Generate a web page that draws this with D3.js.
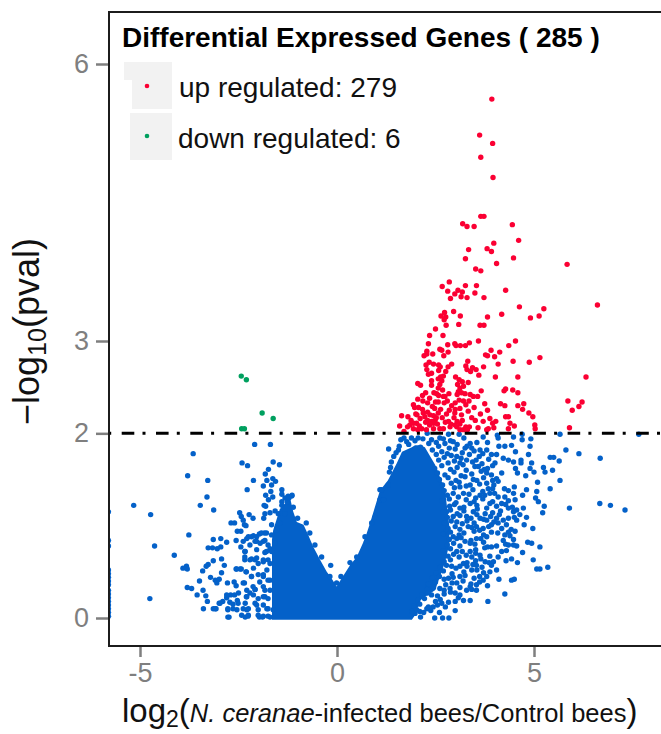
<!DOCTYPE html>
<html lang="en">
<head>
    <meta charset="utf-8">
    <title>Volcano plot</title>
    <style>
        html, body { margin: 0; padding: 0; background: #fff; overflow: hidden; }
        svg { display: block; font-family: "Liberation Sans", Helvetica, sans-serif; }
    </style>
    <script src="https://d3js.org/d3.v7.min.js"></script>
</head>
<body>
<div class="chart"></div>
<script>
// values: [log2 fold change, -log10 pval]
const upRegulated = [
[3.93,5.62],[3.62,5.23],[3.95,5.14],[3.65,4.99],[3.96,4.77],[3.65,4.35],[3.73,4.35],[3.19,4.27],[3.30,4.24],[3.48,4.24],[4.45,4.26],[3.98,4.06],[4.61,4.09],[3.34,3.99],[3.81,4.00],[3.92,3.97],[3.26,3.89],[4.48,3.90],
[4.05,3.84],[5.84,3.83],[3.52,3.78],[3.65,3.76],[2.67,3.59],[2.85,3.64],[3.26,3.60],[3.54,3.60],[2.81,3.54],[3.07,3.55],[2.99,3.51],[3.18,3.53],[3.50,3.52],[4.28,3.55],[2.88,3.46],[3.15,3.48],[3.30,3.47],[3.73,3.47],[6.61,3.39],[4.63,3.37],[5.25,3.35],[2.96,3.32],[2.73,3.31],[2.64,3.27],[2.76,3.26],[2.72,3.23],[3.13,3.27],[4.18,3.29],[3.82,3.26],[4.91,3.25],[5.13,3.27],[3.09,3.18],[2.77,3.17],[3.63,3.17],[3.73,3.17],[2.50,3.13],[2.35,3.06],[2.69,3.06],[2.32,2.97],[2.81,2.96],[2.99,2.97],[3.02,2.95],[3.13,2.95],[3.26,2.95],[3.36,2.98],[3.59,3.00],[4.53,3.00],[4.36,2.95],[2.61,2.91],[2.66,2.90],[2.28,2.89],[2.82,2.88],[2.21,2.84],[2.28,2.86],[2.43,2.86],[2.71,2.84],[3.91,2.90],[3.77,2.85],[3.82,2.84],[4.00,2.83],[4.13,2.88],[5.15,2.82],[4.47,2.78],[4.88,2.77],[2.34,2.77],[2.26,2.74],[3.32,2.78],[2.91,2.75],[2.82,2.72],[2.58,2.74],[4.09,2.75],[3.72,2.72],[3.27,2.73],[3.30,2.69],[3.44,2.71],[3.53,2.69],[2.28,2.69],[2.58,2.68],[2.76,2.67],[2.32,2.64],[2.63,2.61],[2.70,2.62],[3.39,2.67],[3.60,2.63],[4.02,2.61],[4.59,2.61],[6.32,2.61],[3.01,2.61],[3.10,2.58],[2.40,2.57],[2.57,2.59],[2.66,2.57],[3.18,2.56],[3.33,2.55],[2.05,2.54],[2.12,2.52],[2.40,2.52],[2.61,2.53],[2.57,2.49],[3.06,2.53],[3.12,2.49],[3.21,2.51],[3.66,2.46],[4.24,2.46],[4.28,2.48],[4.46,2.47],[4.59,2.44],[2.25,2.44],[2.17,2.41],[2.53,2.43],[2.58,2.41],[2.05,2.37],[2.70,2.40],[2.84,2.43],[2.74,2.40],[3.08,2.45],[3.16,2.44],[3.25,2.43],[3.38,2.42],[3.46,2.40],[3.57,2.40],[2.18,2.35],[2.30,2.33],[2.57,2.34],[2.72,2.33],[1.94,2.31],[1.97,2.28],[3.00,2.33],[3.21,2.35],[3.27,2.31],[2.91,2.30],[2.48,2.27],[2.63,2.26],[3.75,2.32],[4.15,2.32],[4.26,2.30],[4.59,2.30],[4.74,2.32],[4.71,2.26],[5.86,2.35],[6.22,2.34],[6.14,2.29],[5.97,2.25],[2.07,2.28],[2.17,2.26],[2.19,2.22],[2.30,2.23],[2.00,2.21],[1.64,2.19],[1.80,2.18],[3.00,2.26],[3.12,2.27],[3.33,2.24],[2.99,2.22],[3.16,2.20],[3.82,2.25],[4.87,2.22],[3.64,2.21],[4.28,2.18],[4.35,2.18],[4.97,2.18],[2.36,2.20],[2.45,2.19],[2.57,2.22],[2.23,2.18],[2.49,2.14],[2.11,2.16],[2.97,2.17],[3.88,2.16],[3.51,2.14],[3.71,2.13],[4.03,2.13],[3.95,2.11],[4.39,2.11],[4.50,2.08],[5.02,2.09],[5.03,2.05],[5.90,2.06],[1.59,2.08],[1.94,2.11],[2.02,2.11],[1.85,2.09],[2.09,2.08],[1.79,2.07],[2.45,2.11],[2.55,2.10],[2.83,2.13],[2.89,2.10],[3.12,2.10],[3.36,2.07],[3.27,2.07],[3.84,2.05],[3.98,2.06],[4.35,2.05],[3.21,2.04],[3.31,2.04],[3.80,2.04],[1.94,2.05],[2.15,2.05],[2.45,2.05],[2.61,2.05],[2.87,2.07],[3.04,2.07],[1.70,2.02],[3.12,2.04],
[2.25,2.12],[2.35,2.09],[2.67,2.17],[2.75,2.12],[2.40,2.13],[2.03,2.20],[1.88,2.14],[2.30,2.14],[2.70,2.05],[2.52,2.17],[3.05,2.13],[3.42,2.17],[3.58,2.06],[2.05,2.04],[2.27,2.04],[2.78,2.21],[2.85,2.25],[2.42,2.29],[2.35,2.38],[2.46,2.44],[2.50,2.34],[2.80,2.35],[2.68,2.47],[3.35,2.35],[3.10,2.36],[3.48,2.28],[2.40,2.65],[2.62,2.72],[2.45,2.75],[3.05,2.42],[3.18,2.14],[3.00,2.09]
];
const downRegulated = [[-2.43,2.62],[-2.30,2.58],[-1.90,2.22],[-1.62,2.16],[-2.42,2.05],[-2.35,2.05]];

const notSignificantLeft = [
[-2.09,1.88],[-1.69,1.88],[-3.65,1.78],[-2.41,1.68],[-2.27,1.65],[-1.62,1.69],[-1.46,1.66],[-1.74,1.61],[-1.82,1.56],[-3.79,1.54],[-3.28,1.49],[-2.12,1.49],[-1.78,1.49],[-1.63,1.51],[-1.56,1.48],[-1.66,1.44],[-1.87,1.43],[-2.28,1.39],[-1.40,1.39],[-1.68,1.37],[-1.81,1.33],[-1.40,1.34],[-3.30,1.31],[-1.63,1.31],[-1.74,1.28],[-3.47,1.22],[-5.16,1.22],[-1.85,1.22],[-1.81,1.21],[-3.13,1.17],[-4.73,1.12],[-1.70,1.14],[-1.57,1.16],[-1.83,1.13],[-2.47,1.14],[-2.43,1.10],[-2.23,1.12],[-2.13,1.08],[-1.86,1.08],[-2.38,1.06],[-2.69,1.03],[-2.60,1.03],[-2.35,1.01],[-2.31,1.00],[-1.66,1.01],[-1.53,0.97],[-2.53,0.94],[-2.44,0.94],[-3.76,0.90],[-3.14,0.85],[-2.95,0.86],[-2.80,0.82],[-2.56,0.84],[-2.38,0.83],[-2.25,0.88],[-2.12,0.89],[-1.97,0.91],[-1.84,0.92],[-2.04,0.83],[-1.87,0.83],[-4.63,0.78],[-3.27,0.76],[-3.16,0.76],[-3.04,0.75],[-2.95,0.77],[-2.44,0.77],[-2.33,0.72],[-2.04,0.74],[-1.83,0.71],[-1.70,0.75],[-4.13,0.68],[-3.14,0.62],[-2.93,0.64],[-3.27,0.58],[-3.32,0.56],[-2.86,0.57],[-2.34,0.63],[-2.17,0.64],[-2.04,0.65],[-1.87,0.63],[-1.70,0.59],[-3.82,0.56],[-3.91,0.54],[-3.80,0.53],[-3.41,0.51],[-2.56,0.53],[-2.46,0.53],[-2.93,0.49],[-2.31,0.50],[-2.12,0.54],[-1.78,0.52],[-3.21,0.44],[-3.09,0.41],[-2.99,0.42],[-3.05,0.38],[-3.49,0.40],[-2.78,0.38],[-2.61,0.39],[-2.56,0.35],[-2.35,0.38],[-2.17,0.45],[-1.87,0.45],[-1.70,0.41],[-3.80,0.33],[-3.69,0.32],[-3.40,0.30],[-3.55,0.25],[-4.75,0.21],[-3.33,0.24],[-3.29,0.18],[-2.99,0.16],[-2.90,0.18],[-2.80,0.22],[-2.70,0.25],[-2.50,0.27],[-2.29,0.30],[-2.08,0.31],[-2.29,0.23],[-2.12,0.25],[-1.87,0.34],[-1.83,0.23],[-3.39,0.10],[-3.14,0.10],[-3.07,0.10],[-2.77,0.09],[-2.64,0.15],[-2.53,0.19],[-2.54,0.09],[-2.33,0.16],[-2.29,0.09],[-2.08,0.16],[-2.00,0.09],[-2.74,0.01],[-2.33,0.01],[-2.26,0.02],[-1.97,0.01],[-1.89,0.01],[-1.70,0.01],[-1.62,0.09],[-1.78,0.10],
[-1.40,1.26],[-1.32,1.30],[-1.24,1.32],[-1.15,1.32],[-0.78,1.03],[-0.39,0.66],[-0.16,0.57],[-0.18,0.45],[0.10,0.45],[0.33,0.60],[1.09,1.28],[1.09,1.39],
[-2.29,0.86],[-2.17,0.88],[-2.04,0.88],[-1.92,0.92],[-2.08,0.83],[-1.95,0.81],[-1.83,0.84],[-1.75,0.79],[-1.58,0.81],[-2.21,0.63],[-2.08,0.63],[-2.00,0.59],[-1.87,0.61],[-1.75,0.63],[-1.66,0.72],[-1.79,0.72],[-2.34,0.72],[-2.34,0.66],[-2.55,0.53],[-2.43,0.53],[-2.30,0.50],[-2.38,0.38],[-2.17,0.45],[-2.00,0.47],[-1.87,0.47],[-1.75,0.41],[-1.96,0.39],[-2.13,0.34],[-2.21,0.27],[-2.30,0.23],[-2.08,0.31],[-1.83,0.30],[-1.70,0.30],[-1.87,0.23],[-2.00,0.21],[-1.75,0.21],[-2.04,0.14],[-1.87,0.14],[-1.75,0.10],[-2.25,0.10],[-2.38,0.10],[-2.51,0.16],[-2.64,0.10],[-2.77,0.10],[-2.72,0.17],[-2.60,0.25],[-2.80,0.25],[-2.97,0.16],[-3.09,0.10],[-2.00,0.03],[-1.87,0.02],[-1.75,0.02],[-2.42,0.03],[-2.25,0.03],[-2.77,0.01],[-2.21,0.79],[-1.79,0.92],[-1.66,0.90],[-1.53,0.95],[-1.45,1.03],[-1.32,1.13],[-1.49,1.13],[-1.40,1.22],[-1.26,1.26],[-1.14,1.33],[-1.22,1.30],
[-0.69,0.92],[-0.56,0.79],[-0.01,0.38],[0.50,0.66],[0.71,0.88],[0.75,0.83],[0.88,1.03],[0.96,1.09],[-1.11,1.20],[-1.00,1.08],
// points squeezed on the left edge of the panel
[-5.8,1.15],[-5.8,0.84],[-5.8,0.78],[-5.8,0.52],[-5.8,0.48],[-5.8,0.44],[-5.8,0.40],[-5.8,0.36],[-5.8,0.30],[-5.8,0.26],[-5.8,0.22],[-5.8,0.18],[-5.8,0.14],[-5.8,0.10],[-5.8,0.06],[-5.8,0.02]
];
const notSignificantRight = [
[5.66,1.99],[7.66,1.99],[1.62,1.93],[1.77,1.91],[1.89,1.95],[2.06,1.95],[2.29,2.00],[2.40,1.93],[2.61,1.95],[2.83,1.99],[3.10,1.99],[2.74,1.89],[2.95,1.91],[3.71,1.96],[3.82,1.90],[4.07,1.98],[4.09,1.95],[4.48,1.96],[4.70,1.99],[4.70,1.93],[4.92,1.94],[4.90,1.86],[4.43,1.87],[4.26,1.86],[4.11,1.86],[4.53,1.80],[4.86,1.77],[5.81,1.82],[6.14,1.78],[6.68,1.73],[5.41,1.74],[5.50,1.74],[5.64,1.70],[1.31,1.83],[3.38,1.89],[3.25,1.84],[3.42,1.84],[3.63,1.82],[3.80,1.82],[3.92,1.77],[4.05,1.77],[4.22,1.73],[4.35,1.71],[4.48,1.69],[4.67,1.71],[4.67,1.68],[4.94,1.68],[4.90,1.62],[4.53,1.62],[4.58,1.57],[4.79,1.54],[5.00,1.58],[5.24,1.63],[5.28,1.58],[5.47,1.60],[5.66,1.49],[5.09,1.47],[5.41,1.40],[4.50,1.42],[4.81,1.39],[5.07,1.37],[4.25,1.40],[4.71,1.33],[5.04,1.30],[5.11,1.26],[5.26,1.21],[5.22,1.14],[5.90,1.19],[6.67,1.24],[6.94,1.22],[7.31,1.17],
[3.04,1.75],[3.12,1.68],[3.29,1.71],[3.53,1.71],[3.59,1.64],[3.82,1.62],[4.01,1.68],[3.80,1.57],[4.05,1.51],[4.09,1.48],[3.80,1.46],[3.55,1.49],[3.38,1.44],[3.12,1.42],[3.21,1.35],[3.63,1.33],[3.84,1.40],[3.88,1.35],[4.09,1.31],[4.26,1.31],[4.48,1.35],[4.52,1.28],[4.18,1.24],[4.35,1.19],[4.56,1.17],[4.73,1.19],[4.81,1.09],[4.64,1.12],[4.48,1.15],[3.80,1.19],[3.76,1.13],[3.38,1.24],[3.46,1.15],[3.12,1.19],[3.29,1.10],[2.95,1.10],[2.78,1.15],[3.04,1.04],[3.63,1.08],[4.05,1.08],[4.22,1.06],[4.35,1.08],[4.09,1.03],[3.92,1.01],[4.56,1.06],[4.75,1.01],[4.97,0.97],[4.52,0.94],[4.39,0.89],[4.26,0.90],[3.92,0.93],[3.71,0.97],[3.54,0.99],[3.33,0.99],[3.54,0.86],[2.95,0.88],[2.78,0.95],[3.38,0.81],[3.25,0.83],[3.04,0.86],[4.22,0.84],[4.35,0.79],[4.56,0.78],[4.84,0.82],[4.94,0.81],[5.15,0.77],[4.71,0.71],[3.82,0.77],[3.92,0.77],[4.18,0.72],[4.09,0.66],[3.63,0.68],[3.38,0.72],[3.42,0.66],[3.04,0.72],[4.29,0.62],[4.43,0.64],[4.58,0.60],[4.98,0.63],[3.97,0.61],[3.76,0.61],[3.54,0.57],[3.21,0.59],[2.91,0.56],[3.12,0.56],[4.05,0.52],[3.88,0.50],[3.80,0.45],[3.42,0.52],[5.07,0.53],[5.15,0.53],[5.35,0.55],[4.11,0.42],[4.43,0.41],[4.50,0.42],[3.82,0.35],[3.71,0.41],[3.54,0.36],[3.38,0.34],[3.12,0.45],[3.04,0.38],[2.83,0.43],[2.87,0.32],[4.26,0.26],[3.54,0.30],[3.29,0.30],[3.00,0.27],[2.61,0.32],[2.40,0.25],[3.38,0.19],[3.21,0.19],[3.83,0.18],[3.00,0.18],[2.83,0.17],[2.66,0.16],[2.44,0.12],[2.28,0.10],[2.10,0.07],[3.00,0.08],[1.98,0.05],[2.12,0.01],[2.48,0.00],[2.68,0.00],[2.84,0.00],
[1.13,1.39],[1.18,1.28],[1.30,1.44],[1.33,1.58],[1.56,1.82],
// crowded band on the right of the core
[1.70,1.95],[1.98,1.92],[2.18,1.94],[2.52,1.90],[2.70,1.94],[2.88,1.92],[3.22,1.95],
[1.58,1.86],[1.82,1.88],[2.12,1.85],[2.33,1.89],[2.58,1.86],[2.85,1.84],[3.05,1.88],[3.30,1.86],[3.55,1.90],
[1.50,1.79],[2.42,1.82],[2.66,1.80],[2.80,1.78],[3.00,1.83],[3.18,1.79],[3.48,1.81],[3.70,1.78],
[1.44,1.75],[2.52,1.77],[2.72,1.74],[2.90,1.76],[3.15,1.73],[3.36,1.77],[3.61,1.75],[3.85,1.72],
[1.38,1.69],[2.58,1.71],[2.82,1.68],[2.98,1.70],[3.20,1.66],[3.44,1.69],[3.68,1.67],
[1.36,1.63],[2.48,1.62],[2.66,1.65],[2.88,1.61],[3.05,1.63],[3.28,1.60],[3.50,1.64],[3.74,1.61],[3.95,1.65],
[2.55,1.57],[2.74,1.55],[2.97,1.58],[3.15,1.54],[3.42,1.56],[3.66,1.59],[3.92,1.55],[4.18,1.57],
[2.60,1.50],[2.82,1.52],[3.02,1.49],[3.25,1.53],[3.46,1.50],[3.72,1.52],[3.95,1.49],
[2.68,1.44],[2.90,1.46],[3.10,1.47],[3.28,1.43],[3.62,1.45],[3.98,1.44],
[2.72,1.38],[2.98,1.41],[3.45,1.39],[3.70,1.37],[3.95,1.40],[4.35,1.38],
[2.80,1.33],[2.95,1.35],[3.08,1.31],[3.35,1.34],[3.52,1.30],[3.75,1.33],[4.00,1.35],
[2.66,1.27],[2.85,1.29],[3.02,1.25],[3.28,1.28],[3.48,1.26],[3.70,1.29],[3.95,1.26],[4.35,1.27],
[2.86,1.21],[2.98,1.23],[3.22,1.20],[3.55,1.22],[3.88,1.24],[4.05,1.21],[4.28,1.23],[4.45,1.20],
[2.70,1.15],[2.88,1.17],[3.05,1.13],[3.22,1.16],[3.56,1.18],[3.95,1.14],[4.15,1.16],
[2.80,1.09],[3.12,1.11],[3.40,1.08],[3.55,1.12],[3.72,1.07],[3.90,1.10],[4.12,1.12],[4.50,1.09],
[2.72,1.03],[2.90,1.05],[3.18,1.02],[3.30,1.05],[3.48,1.03],[3.80,1.06],[3.98,1.04],[4.30,1.01],
[2.82,0.97],[3.00,0.99],[3.12,0.96],[3.42,0.98],[3.62,0.95],[3.85,0.99],[4.18,0.97],[4.42,0.96],
[2.70,0.91],[2.88,0.93],[3.10,0.90],[3.22,0.92],[3.48,0.94],[3.72,0.90],[4.08,0.92],[4.35,0.93],
[2.85,0.85],[3.15,0.87],[3.40,0.84],[3.65,0.86],[3.80,0.88],[4.48,0.85],
[2.80,0.79],[2.96,0.81],[3.12,0.78],[3.50,0.80],[3.72,0.82],[4.05,0.78],[4.28,0.80],[4.48,0.79],
[2.70,0.73],[2.88,0.75],[3.18,0.72],[3.52,0.74],[3.75,0.76],[4.30,0.73],
[2.82,0.67],[2.96,0.69],[3.10,0.66],[3.28,0.68],[3.52,0.70],[3.88,0.67],
[2.72,0.61],[2.88,0.63],[3.30,0.60],[3.52,0.62],[3.65,0.64],[3.86,0.60],
[2.62,0.55],[2.78,0.57],[3.02,0.54],[3.30,0.56],[3.45,0.58],[3.68,0.55],[3.92,0.57],
[2.52,0.49],[2.70,0.51],[2.92,0.48],[3.22,0.50],[3.55,0.52],[3.72,0.49],
[2.42,0.43],[2.60,0.45],[2.72,0.42],[2.95,0.44],[3.25,0.46],[3.48,0.43],[3.62,0.45],
[2.32,0.37],[2.50,0.39],[2.76,0.36],[2.92,0.38],[3.20,0.40],[3.40,0.37],[3.62,0.39],
[2.28,0.31],[2.45,0.33],[2.72,0.30],[3.12,0.33],[3.42,0.31],
[2.15,0.25],[2.30,0.27],[2.55,0.24],[2.72,0.26],[2.88,0.28],[3.12,0.25],
[2.05,0.19],[2.22,0.21],[2.50,0.18],[2.62,0.20],[3.08,0.22],
[1.95,0.13],[2.10,0.15],[2.32,0.12],[2.55,0.14],[2.75,0.12],
[1.90,0.07],[2.02,0.09],[2.20,0.06],[2.38,0.08],[2.60,0.06]
];

// the V shaped core is so overplotted it reads as solid, so it is drawn as an area
const coreX      = [-1.65,-1.62,-1.45,-1.19,-1.11,-1.02,-0.85,-0.73,-0.60,-0.43,-0.26,-0.14,-0.01,0.12,0.33,0.50,0.71,0.84,1.09,1.29,1.52,1.65,1.90,1.98,2.11,2.23,2.49,2.74,2.85];
const coreTop    = [0.85,0.95,1.18,1.30,1.15,1.04,1.01,0.90,0.77,0.63,0.50,0.43,0.34,0.43,0.57,0.66,0.86,1.03,1.38,1.49,1.68,1.80,1.85,1.87,1.87,1.85,1.66,1.39,1.00];
const coreBottom = [-0.02,-0.02,-0.02,-0.02,-0.02,-0.02,-0.02,-0.02,-0.02,-0.02,-0.02,-0.02,-0.02,-0.02,-0.02,-0.02,-0.02,-0.02,-0.02,-0.02,-0.02,-0.02,-0.02,0.03,0.19,0.23,0.30,0.60,0.80];

const xTicks = [-5, 0, 5];
const yTicks = [0, 2, 3, 6];
const threshold = 2;
const legendTitle = "Differential Expressed Genes ( 285 )";
const legendLabels = ["up regulated: 279", "down regulated: 6"];

const colors = { up: "#fb0033", down: "#00a05f", ns: "#0461c9" };
const w = 661, h = 734;
const panel = { left: 109, right: 680, top: 12, bottom: 646 };

const svg = d3.select(".chart").append("svg").attr("width", w).attr("height", h);

const xScale = d3.scaleLinear().domain([-5, 5]).range([140, 534]);
const yScale = d3.scaleLinear().domain([0, 6]).range([618, 64]);

svg.append("clipPath").attr("id", "panel-clip").append("rect")
    .attr("x", panel.left).attr("y", panel.top)
    .attr("width", panel.right - panel.left).attr("height", panel.bottom - panel.top);

const plot = svg.append("g").attr("clip-path", "url(#panel-clip)");

// dense core
const coreArea = d3.area()
    .x((d, i) => xScale(coreX[i]))
    .y0((d, i) => yScale(coreBottom[i]))
    .y1((d, i) => yScale(coreTop[i]));
plot.append("path").attr("d", coreArea(coreX)).attr("fill", colors.ns);

function drawPoints(data, color) {
    plot.append("g").selectAll("circle")
        .data(data)
        .enter()
        .append("circle")
        .attr("cx", d => xScale(d[0]))
        .attr("cy", d => yScale(d[1]))
        .attr("r", 2.7)
        .attr("fill", color);
}
drawPoints(notSignificantLeft, colors.ns);
drawPoints(notSignificantRight, colors.ns);
drawPoints(upRegulated, colors.up);
drawPoints(downRegulated, colors.down);

// threshold line
svg.append("line")
    .attr("x1", 108.2).attr("x2", 661)
    .attr("y1", yScale(threshold)).attr("y2", yScale(threshold))
    .attr("stroke", "#000").attr("stroke-width", 3)
    .attr("stroke-dasharray", "3 10.5 12.6 8.2");

// axes
const xAxis = d3.axisBottom(xScale).tickValues(xTicks).tickSize(11).tickPadding(6).tickFormat(d => d);
const yAxis = d3.axisLeft(yScale).tickValues(yTicks).tickSize(13).tickPadding(7).tickFormat(d => d);

const xAxisDisplay = svg.append("g").attr("transform", `translate(0, ${panel.bottom})`).call(xAxis);
const yAxisDisplay = svg.append("g").attr("transform", `translate(${panel.left}, 0)`).call(yAxis);
[xAxisDisplay, yAxisDisplay].forEach(a => {
    a.select(".domain").remove();
    a.selectAll("line").attr("stroke", "#7f7f7f").attr("stroke-width", 2.5);
    a.selectAll("text").attr("fill", "#7f7f7f").attr("font-size", 27)
        .attr("font-family", '"Liberation Sans", Helvetica, sans-serif');
});

// panel border
svg.append("rect")
    .attr("x", panel.left).attr("y", panel.top)
    .attr("width", panel.right - panel.left).attr("height", panel.bottom - panel.top)
    .attr("fill", "none").attr("stroke", "#1c1c1c").attr("stroke-width", 2);

// legend keys, the top one has a bite out of its lower left corner in the original
const keyFill = "#f2f2f2";
svg.append("rect").attr("x", 124).attr("y", 62).attr("width", 48).attr("height", 18).attr("fill", keyFill);
svg.append("rect").attr("x", 132).attr("y", 62).attr("width", 40).attr("height", 47).attr("fill", keyFill);
svg.append("rect").attr("x", 130).attr("y", 113).attr("width", 42).attr("height", 47).attr("fill", keyFill);
svg.append("circle").attr("cx", 147).attr("cy", 86).attr("r", 2.3).attr("fill", colors.up);
svg.append("circle").attr("cx", 147).attr("cy", 136).attr("r", 2.3).attr("fill", colors.down);

svg.append("text").attr("x", 122).attr("y", 47)
    .attr("font-size", 28).attr("font-weight", "bold").attr("fill", "#000")
    .text(legendTitle);
svg.append("text").attr("x", 179).attr("y", 97).attr("font-size", 28).attr("fill", "#111").text(legendLabels[0]);
svg.append("text").attr("x", 178).attr("y", 148).attr("font-size", 28).attr("fill", "#111").text(legendLabels[1]);

// axis titles
const yLabel = svg.append("text")
    .attr("transform", "translate(39, 425) rotate(-90)")
    .attr("font-size", 36).attr("fill", "#111");
yLabel.append("tspan").text("\u2212log");
yLabel.append("tspan").attr("font-size", 25).attr("dy", 7).text("10");
yLabel.append("tspan").attr("dy", -7).text("(pval)");

const xLabel = svg.append("text").attr("x", 122).attr("y", 722).attr("font-size", 33).attr("fill", "#111");
xLabel.append("tspan").text("log");
xLabel.append("tspan").attr("font-size", 23).attr("dy", 5).text("2");
xLabel.append("tspan").attr("dy", -5).text("(");
xLabel.append("tspan").attr("font-size", 25.5).attr("font-style", "italic").text("N. ceranae");
xLabel.append("tspan").attr("font-size", 25.5).text("-infected bees/Control bees");
xLabel.append("tspan").text(")");
</script>
</body>
</html>
